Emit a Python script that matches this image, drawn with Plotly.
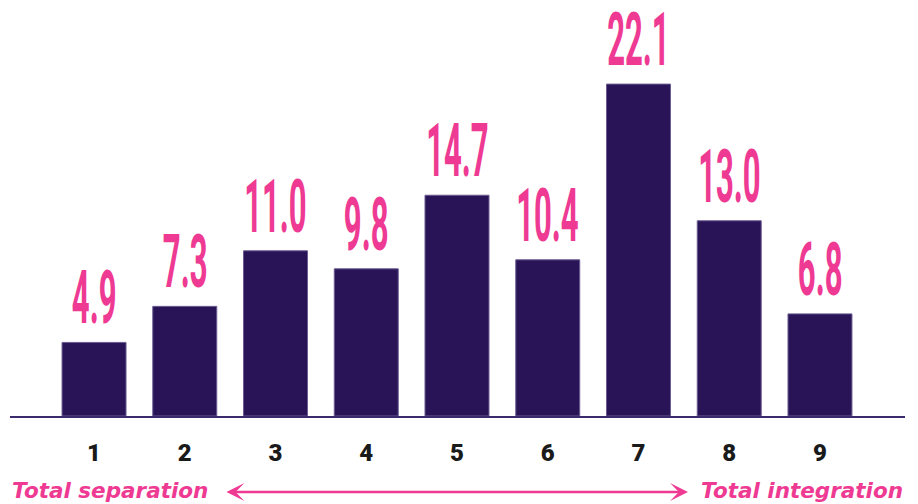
import plotly.graph_objects as go

categories = ["1", "2", "3", "4", "5", "6", "7", "8", "9"]
values = [4.9, 7.3, 11.0, 9.8, 14.7, 10.4, 22.1, 13.0, 6.8]
value_labels = ["4.9", "7.3", "11.0", "9.8", "14.7", "10.4", "22.1", "13.0", "6.8"]
left_label = "Total separation"
right_label = "Total integration"

BAR = "#2a1458"
PINK = "#ee3a93"

x_idx = list(range(len(categories)))

fig = go.Figure()
fig.add_trace(go.Bar(
    x=x_idx, y=values, width=0.705,
    marker=dict(color=BAR, line=dict(color="#6b5c92", width=1)),
    hoverinfo="skip",
))

for i, (v, t) in enumerate(zip(values, value_labels)):
    fig.add_annotation(
        x=i, y=v, text=t, showarrow=False, yanchor="bottom", yshift=-1,
        font=dict(family="Roboto", size=74, color=PINK, weight=700),
    )

side_font = dict(family="DejaVu Sans", size=21.5, color=PINK, weight=700, style="italic")
fig.add_annotation(
    xref="paper", yref="paper", x=0, y=-0.178, text=left_label,
    showarrow=False, xanchor="left", yanchor="middle", font=side_font,
)
fig.add_annotation(
    xref="paper", yref="paper", x=1, y=-0.178, text=right_label,
    showarrow=False, xanchor="right", yanchor="middle", font=side_font,
)
fig.add_annotation(
    xref="x domain", yref="y domain", x=0.7575, y=-0.1827, ax=0.2402, ay=-0.1827,
    axref="x domain", ayref="y domain", text="", showarrow=True,
    arrowhead=3, startarrowhead=3, arrowside="end+start", arrowsize=1.3,
    startarrowsize=1.3, arrowwidth=2.3, arrowcolor=PINK,
)

fig.update_layout(
    width=918, height=504,
    margin=dict(l=10, r=13, t=0, b=88),
    plot_bgcolor="white", paper_bgcolor="white",
    showlegend=False,
    xaxis=dict(
        tickmode="array", tickvals=x_idx, ticktext=categories,
        range=[-0.926, 8.937], showline=True, linecolor="#3b2a6e", linewidth=2,
        showgrid=False, zeroline=False, ticks="", ticklabelstandoff=14,
        tickfont=dict(family="Roboto", size=24, color="#1a1a1a", weight=900),
    ),
    yaxis=dict(range=[0, 27.7], visible=False, showgrid=False, zeroline=False),
)

post = """
document.body.style.margin = '0';
document.querySelectorAll('.annotation-text').forEach(function (el) {
  var fs = parseFloat(el.style.fontSize || '0');
  if (fs > 40) {
    el.style.transformBox = 'fill-box';
    el.style.transformOrigin = 'center';
    el.style.transform = 'scaleX(0.42)';
  }
});
"""

fig.write_html("out.html", post_script=post, config={"displayModeBar": False})
